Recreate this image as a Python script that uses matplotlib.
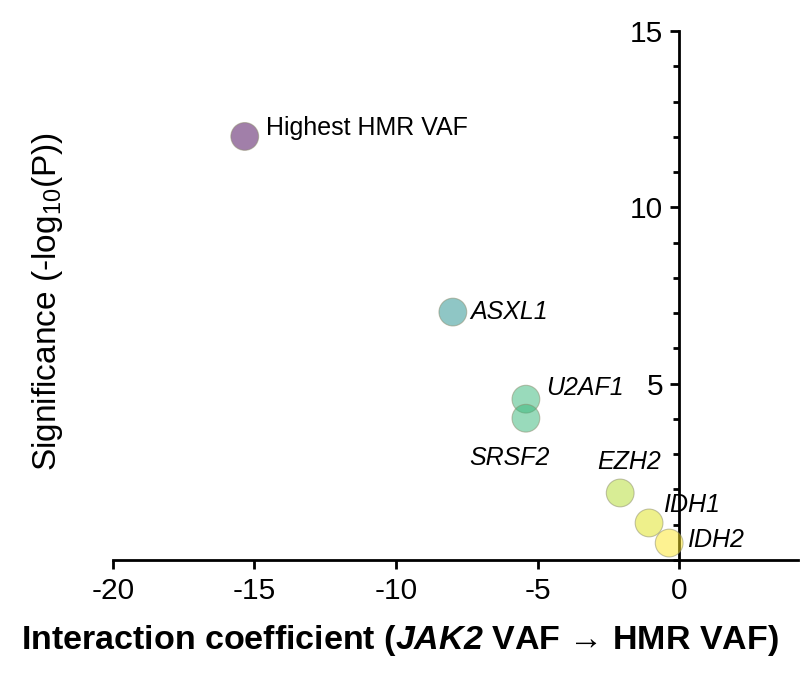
import numpy as np
import matplotlib
matplotlib.use('Agg')
import matplotlib.pyplot as plt
from matplotlib.ticker import MultipleLocator

plt.rcParams['font.family'] = ['Liberation Sans', 'DejaVu Sans']
plt.rcParams['axes.unicode_minus'] = False
plt.rcParams['mathtext.fontset'] = 'custom'
plt.rcParams['mathtext.rm'] = 'Liberation Sans'
plt.rcParams['mathtext.it'] = 'Liberation Sans:italic'
plt.rcParams['mathtext.bf'] = 'Liberation Sans:bold'
plt.rcParams['mathtext.bfit'] = 'Liberation Sans:italic:bold'

## DATA
genes = ['Highest HMR VAF', 'ASXL1', 'U2AF1', 'SRSF2', 'EZH2', 'IDH1', 'IDH2']
coef = [-15.34, -7.99, -5.41, -5.41, -2.08, -1.06, -0.35]
signif = [12.01, 7.03, 4.56, 4.02, 1.90, 1.05, 0.48]
italic = [False, True, True, True, True, True, True]
# label offsets in pixels (dx, dy) and horizontal alignment
offsets = [(21, 8, 'left'), (17, 0, 'left'), (20, 11, 'left'), (-16, -40, 'center'),
           (9, 31, 'center'), (14, 18, 'left'), (18, 3, 'left')]

fig = plt.figure(figsize=(8, 6.86), dpi=100)
ax = fig.add_axes([0.141, 0.1837, 0.8565, 0.7711])

ax.scatter(coef, signif, c=coef, cmap='viridis', s=400, alpha=0.5,
           edgecolors='#8a8a6a', linewidths=0.8, zorder=3)

for g, x, y, it, (dx, dy, ha) in zip(genes, coef, signif, italic, offsets):
    ax.annotate(g, (x, y), xytext=(dx, dy), textcoords='offset pixels',
                ha=ha, va='center', fontsize=18,
                style='italic' if it else 'normal', zorder=4)

ax.set_xlim(-20, 4.2)
ax.set_ylim(0, 15)
ax.spines['left'].set_position(('data', 0))
ax.spines['top'].set_visible(False)
ax.spines['right'].set_visible(False)
for s in ['left', 'bottom']:
    ax.spines[s].set_linewidth(2)

ax.set_xticks([-20, -15, -10, -5, 0])
ax.set_yticks([5, 10, 15])
ax.yaxis.set_minor_locator(MultipleLocator(1))
ax.tick_params(axis='both', which='major', length=6.5, width=2, labelsize=21.5)
ax.tick_params(axis='x', which='major', pad=6)
ax.tick_params(axis='y', which='major', pad=5)
ax.tick_params(axis='y', which='minor', length=4, width=2)

fig.text(0.5, 0.0656, r'Interaction coefficient ($\mathbfit{JAK2}$ VAF → HMR VAF)',
         fontsize=24.5, fontweight='bold', ha='center', va='center')
fig.text(0.06, 0.561, r'Significance (-log$_{10}$(P))', rotation=90,
         fontsize=24, ha='center', va='center')

fig.savefig('out.png', dpi=100)
